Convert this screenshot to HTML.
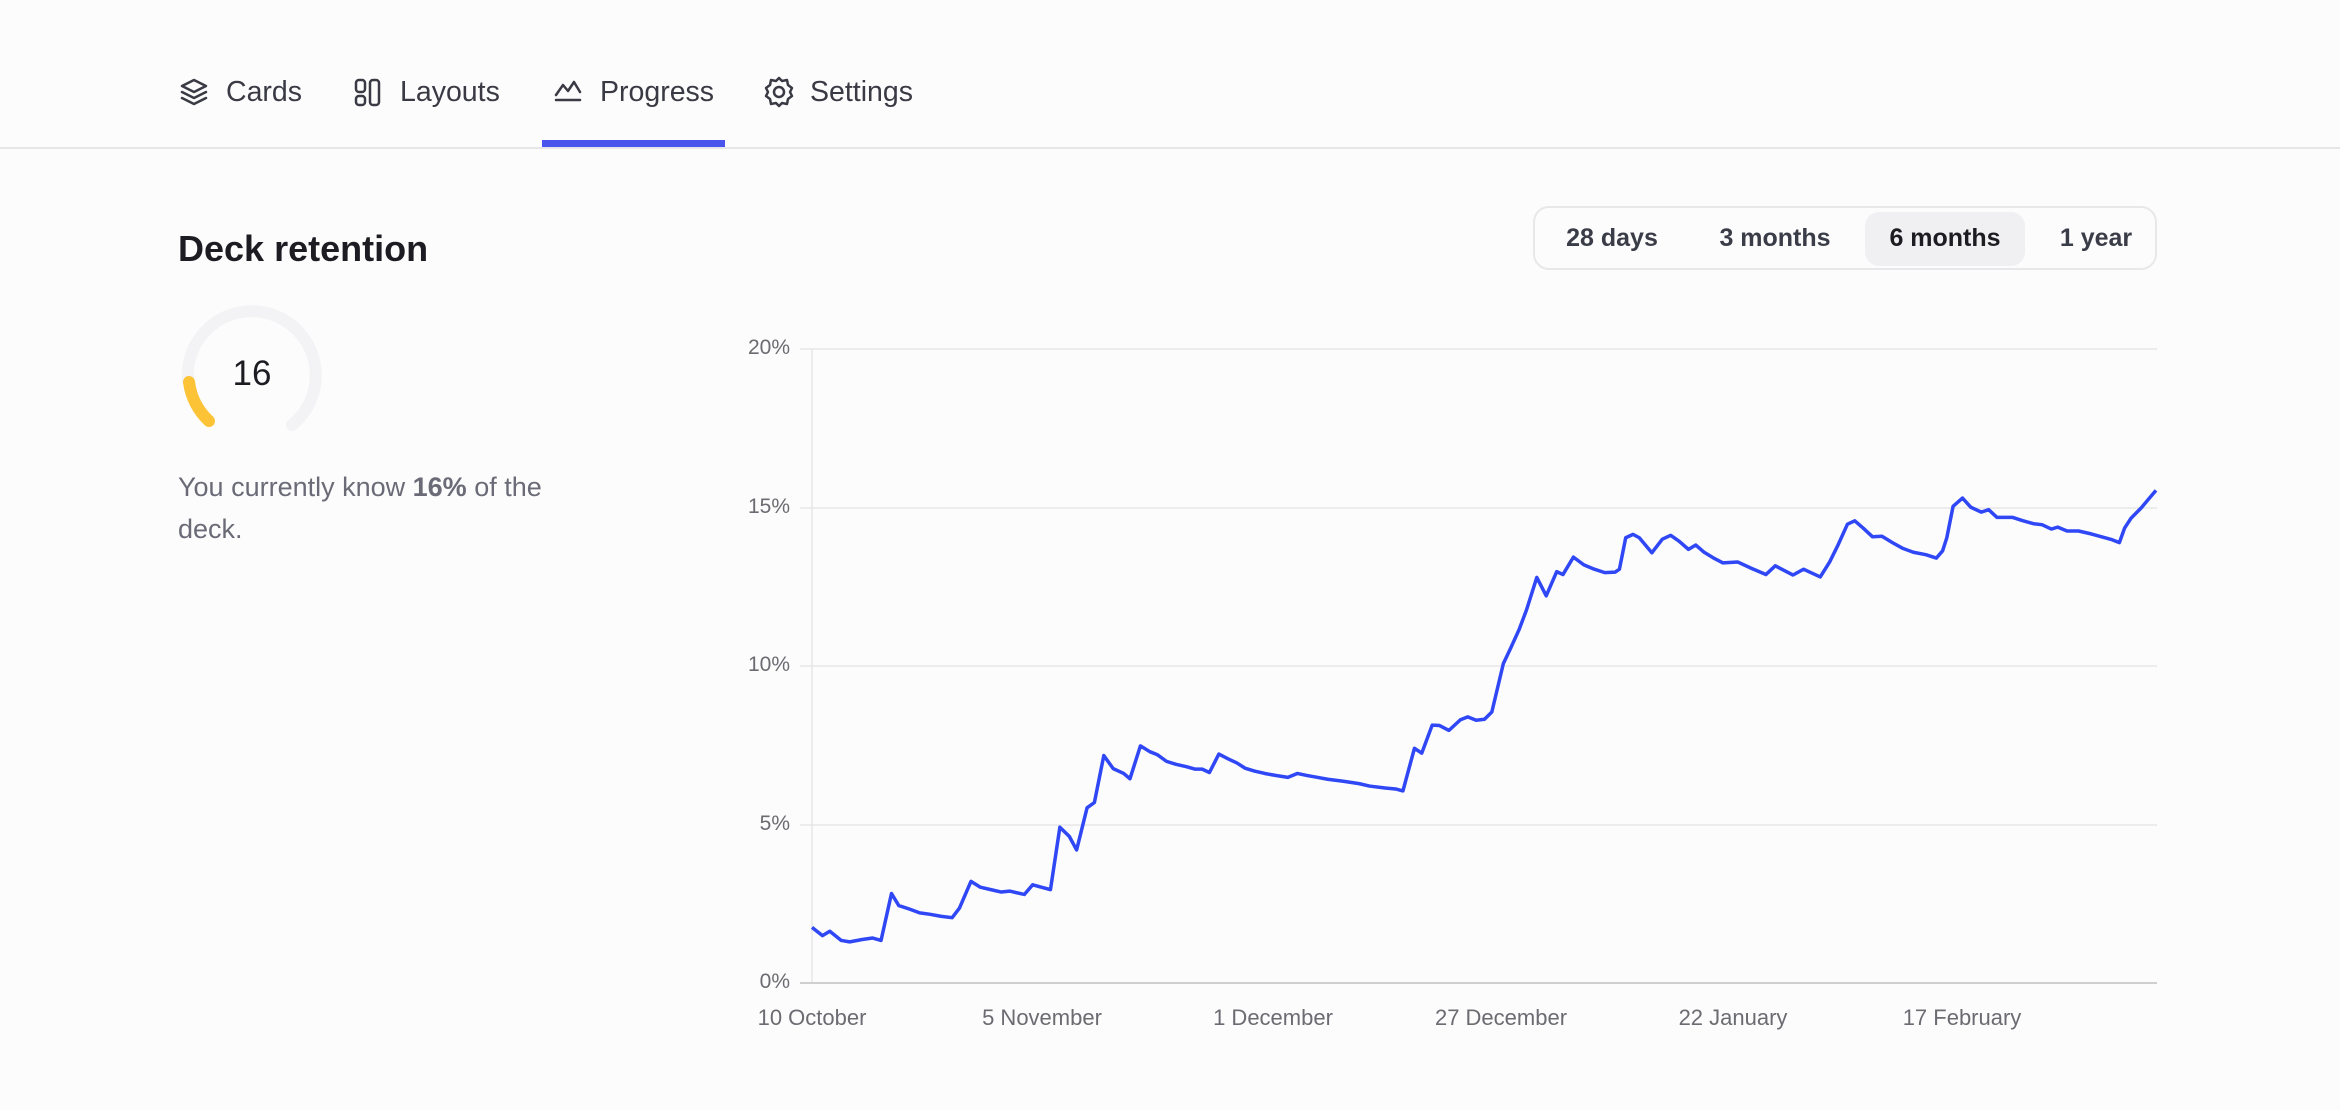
<!DOCTYPE html>
<html><head><meta charset="utf-8"><style>
html,body{margin:0;padding:0;background:#fcfcfc;width:2340px;height:1110px;overflow:hidden;font-family:"Liberation Sans",sans-serif;}
.tab{position:absolute;top:72px;font-size:28.5px;color:#3a3a44;line-height:40px;}
.seg{position:absolute;left:1533px;top:206px;width:624px;height:64px;border:2px solid #e8e8ea;border-radius:16px;box-sizing:border-box;}
.si{position:absolute;top:0;height:60px;line-height:60px;font-size:25px;font-weight:bold;color:#3a3d48;transform:translateX(-50%);white-space:nowrap;}
.yl{position:absolute;width:80px;text-align:right;left:710px;font-size:21px;color:#6b6b72;}
.xl{position:absolute;top:1005px;font-size:22px;color:#6b6b72;transform:translateX(-50%);white-space:nowrap;}
</style></head><body>
<svg style="position:absolute;left:0;top:0" width="2340" height="160">
 <g fill="none" stroke="#3a3a44" stroke-width="2.5" stroke-linejoin="round" stroke-linecap="round">
  <path d="M194 80 L206 86 L194 92 L182 86 Z"/><path d="M182 92 L194 98 L206 92"/><path d="M182 98 L194 104 L206 98"/>
  <rect x="356" y="80" width="9" height="12" rx="3"/><rect x="356" y="96" width="9" height="9" rx="3"/><rect x="370" y="80" width="9" height="25" rx="3"/>
  <path d="M556 100 L580 100"/><path d="M556 95 L563 85 L568 91 L574 82 L580 92"/>
  <circle cx="779" cy="92" r="5"/><path d="M779 78 l3 3 l5 -1 l1 5 l4 3 l-2 4 l2 4 l-4 3 l-1 5 l-5 -1 l-3 3 l-3 -3 l-5 1 l-1 -5 l-4 -3 l2 -4 l-2 -4 l4 -3 l1 -5 l5 1 Z"/>
 </g>
 <rect x="0" y="147" width="2340" height="2" fill="#e6e6e8"/>
 <rect x="542" y="140" width="183" height="7" fill="#4a55ee"/>
</svg>
<div class="tab" style="left:226px">Cards</div>
<div class="tab" style="left:400px">Layouts</div>
<div class="tab" style="left:600px">Progress</div>
<div class="tab" style="left:810px">Settings</div>

<div style="position:absolute;left:178px;top:228px;font-size:36px;font-weight:bold;color:#1c1c22">Deck retention</div>
<svg style="position:absolute;left:0;top:0" width="500" height="500">
 <path d="M188 381 A64 64 0 1 1 292 425" fill="none" stroke="#f3f3f5" stroke-width="12" stroke-linecap="round"/>
 <path d="M189 382 A64 64 0 0 0 209 421" fill="none" stroke="#fdc337" stroke-width="12" stroke-linecap="round"/>
</svg>
<div style="position:absolute;left:222px;top:354px;width:60px;text-align:center;font-size:35px;color:#1c1c22">16</div>
<div style="position:absolute;left:178px;top:466px;width:420px;font-size:27px;line-height:42px;color:#6b6b78">You currently know <b>16%</b> of the deck.</div>

<div class="seg">
 <div style="position:absolute;left:330px;top:4px;width:160px;height:54px;background:#f0f0f2;border-radius:14px"></div>
 <div class="si" style="left:77px">28 days</div>
 <div class="si" style="left:240px">3 months</div>
 <div class="si" style="left:410px;color:#1c1c22">6 months</div>
 <div class="si" style="left:561px">1 year</div>
</div>

<svg style="position:absolute;left:0;top:0" width="2340" height="1110">
 <g stroke="#e6e6e8" stroke-width="1.5">
  <line x1="800" y1="349" x2="2157" y2="349"/><line x1="800" y1="508" x2="2157" y2="508"/>
  <line x1="800" y1="666" x2="2157" y2="666"/><line x1="800" y1="825" x2="2157" y2="825"/>
  <line x1="812" y1="349" x2="812" y2="983"/>
 </g>
 <line x1="800" y1="983" x2="2157" y2="983" stroke="#cfcfd2" stroke-width="2"/>
 <g transform="translate(812,349) scale(1.0459,0.484) translate(-107,-100)">
 <polyline fill="none" stroke="#2f47f5" stroke-width="3.5" vector-effect="non-scaling-stroke" stroke-linejoin="round" points="107,1295 117,1312 124,1303 135,1322 143,1325 155,1320 165,1317 173,1322 183,1225 190,1250 200,1257 210,1265 220,1268 230,1272 241,1275 248,1255 259,1200 268,1212 280,1218 288,1222 296,1220 310,1227 318,1207 328,1213 335,1217 344,1088 353,1107 360,1135 370,1048 377,1037 386,940 395,967 405,977 411,988 421,920 430,932 437,938 446,952 455,958 465,963 473,968 480,968 487,975 496,937 505,947 513,955 521,966 530,972 540,977 550,981 562,985 571,977 580,981 590,985 600,989 615,993 630,998 640,1003 655,1007 665,1009 672,1013 683,925 690,935 700,877 707,878 716,888 727,866 734,860 742,867 750,865 757,850 768,750 775,718 783,680 790,640 800,572 809,610 819,560 825,566 835,530 845,546 855,555 865,562 875,561 879,555 885,490 892,483 898,490 905,508 910,521 920,493 928,485 936,497 945,514 952,505 960,520 970,533 978,542 992,540 1005,553 1019,566 1028,548 1036,557 1045,567 1055,555 1064,564 1071,571 1080,540 1088,505 1097,462 1104,455 1112,470 1121,488 1130,487 1140,500 1150,512 1160,520 1172,525 1182,532 1188,517 1192,490 1198,425 1207,408 1215,427 1225,437 1232,432 1240,448 1255,448 1265,455 1275,461 1283,463 1292,472 1298,468 1307,476 1318,476 1330,482 1340,488 1350,494 1357,500 1362,470 1368,450 1378,428 1385,410 1392,392"/>
 </g>
</svg>
<div class="yl" style="top:336px">20%</div>
<div class="yl" style="top:495px">15%</div>
<div class="yl" style="top:653px">10%</div>
<div class="yl" style="top:812px">5%</div>
<div class="yl" style="top:970px">0%</div>
<div class="xl" style="left:812px">10 October</div>
<div class="xl" style="left:1042px">5 November</div>
<div class="xl" style="left:1273px">1 December</div>
<div class="xl" style="left:1501px">27 December</div>
<div class="xl" style="left:1733px">22 January</div>
<div class="xl" style="left:1962px">17 February</div>
</body></html>
